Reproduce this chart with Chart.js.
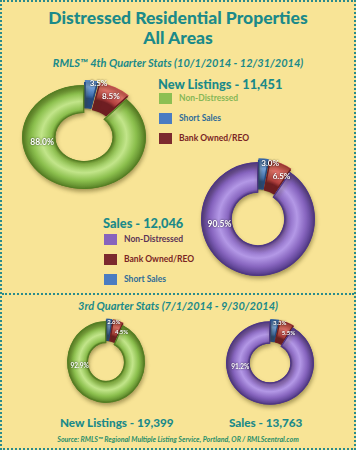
<!DOCTYPE html>
<html>
<head>
<meta charset="utf-8">
<script src="https://cdn.jsdelivr.net/npm/chart.js@4"></script>
<style>
  html, body { margin: 0; padding: 0; }
  body { width: 356px; height: 450px; background: #f8e496; position: relative; overflow: hidden; font-family: Lato, "Open Sans", sans-serif; }
  .frame { position: absolute; left: 0; top: 0; width: 352px; height: 446px; border: 2px dotted #2a8b8c; }
  .divider { position: absolute; left: 2px; top: 293px; width: 352px; border-top: 2px dotted #2a8b8c; }
  .txt { position: absolute; white-space: nowrap; color: #1b8a89; line-height: 1; }
  .title { left: 0; width: 356px; text-align: center; font-weight: 900; font-size: 17.5px; }
  .sub { left: 0; width: 356px; text-align: center; font-weight: 700; font-style: italic; font-size: 11px; }
  .head { font-weight: 900; font-size: 12.8px; }
  .leg { position: absolute; font-size: 8.5px; font-weight: 700; white-space: nowrap; }
  .leg span.sw { position: absolute; left: 0; top: 0; width: 13px; height: 11px; }
  .leg span.lb { position: absolute; left: 20px; top: -1px; line-height: 12px; }
  .src { left: 0; width: 356px; text-align: center; font-weight: 700; font-style: italic; font-size: 7px; color: #2a8f6a; }
  canvas { position: absolute; }
</style>
</head>
<body>
<div class="frame"></div>
<div class="divider"></div>

<div class="txt title" style="top:9px;">Distressed Residential Properties</div>
<div class="txt title" style="top:29px;">All Areas</div>
<div class="txt sub" style="top:57px;">RMLS™ 4th Quarter Stats (10/1/2014 - 12/31/2014)</div>

<div class="txt head" style="left:158px; top:78px;" id="h1"></div>
<div id="leg1"></div>
<div class="txt head" style="left:103px; top:217px;" id="h2"></div>
<div id="leg2"></div>

<div class="txt sub" style="top:300px;">3rd Quarter Stats (7/1/2014 - 9/30/2014)</div>
<div class="txt head" style="left:60px; top:417px; font-size:11.7px;" id="h3"></div>
<div class="txt head" style="left:229px; top:417px; font-size:11.7px;" id="h4"></div>
<div class="txt src" style="top:436px;">Source: RMLS™ Regional Multiple Listing Service, Portland, OR / RMLScentral.com</div>

<canvas id="c1" width="170" height="160" style="left:-1px; top:57px;"></canvas>
<canvas id="c2" width="150" height="150" style="left:183px; top:144px;"></canvas>
<canvas id="c3" width="110" height="110" style="left:51px; top:307px;"></canvas>
<canvas id="c4" width="110" height="110" style="left:215px; top:308px;"></canvas>

<script>
// ---- Data ----
const categories = ['Short Sales', 'Bank Owned/REO', 'Non-Distressed'];
const q4NewListings = [3.5, 8.5, 88.0];
const q4Sales = [3.0, 6.5, 90.5];
const q3NewListings = [2.6, 4.5, 92.9];
const q3Sales = [3.3, 5.5, 91.2];
const headings = ['New Listings - 11,451', 'Sales - 12,046', 'New Listings - 19,399', 'Sales - 13,763'];
const listingsLegendOrder = ['Non-Distressed', 'Short Sales', 'Bank Owned/REO'];
const salesLegendOrder = ['Non-Distressed', 'Bank Owned/REO', 'Short Sales'];

// ---- Styles ----
const shades = {
  green:  { base: '#8cc04e', light: '#c2e58a', dark: '#557f24', swatch: '#8cbf52', text: '#86b757' },
  purple: { base: '#8866c0', light: '#b398e6', dark: '#4f3785', swatch: '#8763bd', text: '#5a3357' },
  blue:   { base: '#3f71b4', light: '#78a6e0', dark: '#234a82', swatch: '#4a7cc2', text: '#2e6b97' },
  red:    { base: '#b2403e', light: '#e0726a', dark: '#6e1e22', swatch: '#7c2a2e', text: '#7a2424' }
};
function paletteFor(mainColor) {
  return { 'Short Sales': shades.blue, 'Bank Owned/REO': shades.red, 'Non-Distressed': shades[mainColor] };
}

['h1', 'h2', 'h3', 'h4'].forEach((id, i) => { document.getElementById(id).textContent = headings[i]; });

function buildLegend(id, order, pal, left, tops) {
  const box = document.getElementById(id);
  order.forEach((name, i) => {
    const d = document.createElement('div');
    d.className = 'leg';
    d.style.left = left + 'px';
    d.style.top = tops[i] + 'px';
    const sw = document.createElement('span');
    sw.className = 'sw';
    sw.style.background = pal[name].swatch;
    const lb = document.createElement('span');
    lb.className = 'lb';
    lb.style.color = pal[name].text;
    lb.textContent = name;
    d.appendChild(sw); d.appendChild(lb);
    box.appendChild(d);
  });
}
buildLegend('leg1', listingsLegendOrder, paletteFor('green'), 159, [93, 113, 133]);
buildLegend('leg2', salesLegendOrder, paletteFor('purple'), 104, [234, 254, 274]);

function ringGradient(ctx, colors) {
  const chart = ctx.chart;
  const ca = chart.chartArea;
  const meta = chart.getDatasetMeta(0);
  const ctrl = meta.controller;
  if (!ca || !ctrl || !ctrl.outerRadius) return colors.base;
  const data = chart.data.datasets[0].data;
  const total = data.reduce((a, b) => a + b, 0);
  let before = 0;
  for (let i = 0; i < ctx.dataIndex; i++) before += data[i];
  const mid = -Math.PI / 2 + (before + data[ctx.dataIndex] / 2) / total * Math.PI * 2;
  const off = (chart.data.datasets[0].offset || [])[ctx.dataIndex] || 0;
  const cx = (ca.left + ca.right) / 2 + Math.cos(mid) * off;
  const cy = (ca.top + ca.bottom) / 2 + Math.sin(mid) * off;
  const ir = ctrl.innerRadius, or = ctrl.outerRadius;
  const g = chart.ctx.createRadialGradient(cx, cy, ir, cx, cy, or);
  g.addColorStop(0, colors.dark);
  g.addColorStop(0.12, colors.base);
  g.addColorStop(0.42, colors.light);
  g.addColorStop(0.7, colors.base);
  g.addColorStop(1, colors.dark);
  return g;
}

// soft drop shadow + optional vertical squash (perspective look)
const shadowPlugin = {
  id: 'ringShadow',
  beforeDatasetsDraw(chart) {
    const c = chart.ctx;
    const ca = chart.chartArea;
    const sy = chart.options.squashY || 1;
    const cx = (ca.left + ca.right) / 2, cy = (ca.top + ca.bottom) / 2;
    c.save();
    c.translate(cx, cy); c.scale(1, sy); c.translate(-cx, -cy);
    c.shadowColor = 'rgba(70,60,10,0.45)';
    c.shadowBlur = 4;
    c.shadowOffsetY = 3;
    c.shadowOffsetX = 1;
  },
  afterDatasetsDraw(chart) {
    chart.ctx.restore();
  }
};

const labelPlugin = {
  id: 'pctLabels',
  afterDatasetsDraw(chart) {
    const c = chart.ctx;
    const ds = chart.data.datasets[0];
    const meta = chart.getDatasetMeta(0);
    const maxVal = Math.max(...ds.data);
    const size = chart.options.labelSize || 8;
    const sy = chart.options.squashY || 1;
    c.save();
    c.fillStyle = '#ffffff';
    c.textAlign = 'center';
    c.textBaseline = 'middle';
    c.shadowColor = 'rgba(0,0,0,0.8)';
    c.shadowBlur = 2;
    let prev = null;
    meta.data.forEach((arc, i) => {
      const p = arc.getProps(['x', 'y', 'startAngle', 'endAngle', 'innerRadius', 'outerRadius']);
      const v = ds.data[i];
      const txt = v.toFixed(1) + '%';
      const off = (ds.offset || [])[i] || 0;
      let x, y;
      if (v === maxVal) {
        c.font = '700 ' + size + 'px Lato, sans-serif';
        const r = p.innerRadius + (p.outerRadius - p.innerRadius) * 0.4;
        x = p.x - r;
        y = p.y + p.outerRadius * 0.1 * sy;
      } else {
        c.font = '700 ' + (size - 0.5) + 'px Lato, sans-serif';
        if (!prev) {
          const ang = (p.startAngle + p.endAngle) / 2;
          const r = 0.85 * (p.outerRadius + off);
          x = p.x + Math.cos(ang) * r + p.outerRadius * 0.12;
          y = p.y + Math.sin(ang) * r * sy;
        } else {
          x = prev.x + p.outerRadius * 0.2;
          y = prev.y + size * 1.4 + 1;
        }
        prev = { x, y };
      }
      c.fillText(txt, x, y);
    });
    c.restore();
  }
};

function makeDonut(id, values, mainColor, radius, offsetPx, squashY, labelSize) {
  const pal = paletteFor(mainColor);
  const colorList = categories.map(n => pal[n]);
  new Chart(document.getElementById(id), {
    type: 'doughnut',
    data: {
      labels: categories,
      datasets: [{
        data: values,
        backgroundColor: ctx => ringGradient(ctx, colorList[ctx.dataIndex]),
        borderColor: colorList.map(cl => cl.dark),
        borderWidth: 1,
        offset: values.map((v, i) => categories[i] === 'Non-Distressed' ? 0 : offsetPx),
        borderAlign: 'inner'
      }]
    },
    options: {
      responsive: false,
      animation: false,
      devicePixelRatio: 1,
      radius: radius,
      cutout: '46%',
      squashY: squashY,
      labelSize: labelSize,
      layout: { padding: 0 },
      plugins: { legend: { display: false }, tooltip: { enabled: false } }
    },
    plugins: [shadowPlugin, labelPlugin]
  });
}

makeDonut('c1', q4NewListings, 'green', 62, 14, 0.84, 8.5);
makeDonut('c2', q4Sales, 'purple', 57, 9, 1, 8.5);
makeDonut('c3', q3NewListings, 'green', 39, 6, 1.05, 6.5);
makeDonut('c4', q3Sales, 'purple', 44, 6, 0.95, 6.5);
</script>
</body>
</html>
